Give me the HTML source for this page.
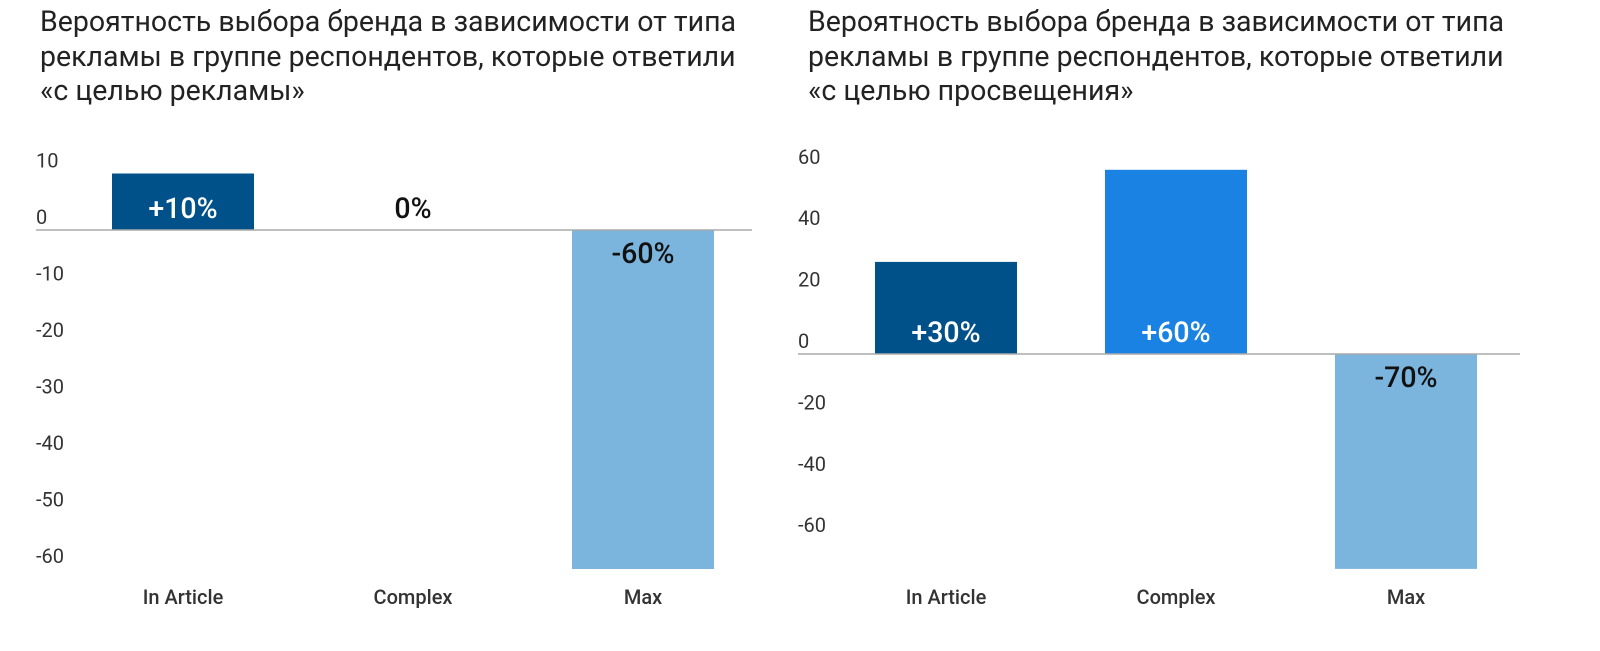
<!DOCTYPE html>
<html><head><meta charset="utf-8"><style>
body{margin:0;background:#fff;width:1600px;height:651px;overflow:hidden;font-family:"Roboto","Liberation Sans","DejaVu Sans",sans-serif}
.t{position:absolute;font-size:28.5px;line-height:34.5px;color:#222;white-space:nowrap}
</style></head><body>
<div class="t" style="left:40px;top:5px">Вероятность выбора бренда в зависимости от типа<br>рекламы в группе респондентов, которые ответили<br>«с целью рекламы»</div>
<div class="t" style="left:808px;top:5px">Вероятность выбора бренда в зависимости от типа<br>рекламы в группе респондентов, которые ответили<br>«с целью просвещения»</div>
<svg id="s" width="1600" height="651" style="position:absolute;left:0;top:0"></svg>
<script>
const categories=["In Article","Complex","Max"];
const leftValues=[10,0,-60];
const leftLabels=["+10%","0%","-60%"];
const leftTicks=[10,0,-10,-20,-30,-40,-50,-60];
const rightValues=[30,60,-70];
const rightLabels=["+30%","+60%","-70%"];
const rightTicks=[60,40,20,0,-20,-40,-60];
const colors=["#00508a","#1a82e2","#7bb5de"];
const svg=document.getElementById('s');
const NS="http://www.w3.org/2000/svg";
function mk(tag,attrs,txt){const e=document.createElementNS(NS,tag);for(const k in attrs)e.setAttribute(k,attrs[k]);if(txt!==undefined)e.textContent=txt;svg.appendChild(e);return e;}
function chart(cfg,vals,labs,ticks,side){
  const y=v=>cfg.zero-v*cfg.scale;
  const x=i=>cfg.x0+i*cfg.step;
  ticks.forEach(t=>{const e=mk('text',{x:cfg.tx,y:y(t)-6,'font-size':20,fill:'#333'},String(t));
    
    });
  vals.forEach((v,i)=>{
    const r=mk('rect',{x:x(i)-71,y:Math.min(y(v),cfg.zero),width:142,height:Math.abs(y(v)-cfg.zero),fill:colors[i]});
    
    
    const ly=v<0?cfg.zero+33:cfg.zero-12;
    const l=mk('text',{x:x(i),y:ly,'text-anchor':'middle','font-size':28.5,'font-weight':500,fill:v>0?'#fff':'#111'},labs[i]);
    
    
    const c=mk('text',{x:x(i),y:604,'text-anchor':'middle','font-size':20,'font-weight':500,fill:'#333'},categories[i]);
    
    
  });
  const a=mk('line',{x1:cfg.ax1,x2:cfg.ax2,y1:cfg.zero,y2:cfg.zero,stroke:'#aaa','stroke-width':1.5});
  
  
}
chart({zero:230,scale:5.65,x0:183,step:230,tx:36,ax1:36,ax2:752},leftValues,leftLabels,leftTicks,'left');
chart({zero:354,scale:3.07,x0:946,step:230,tx:798,ax1:798,ax2:1520},rightValues,rightLabels,rightTicks,'right');
</script>
</body></html>
